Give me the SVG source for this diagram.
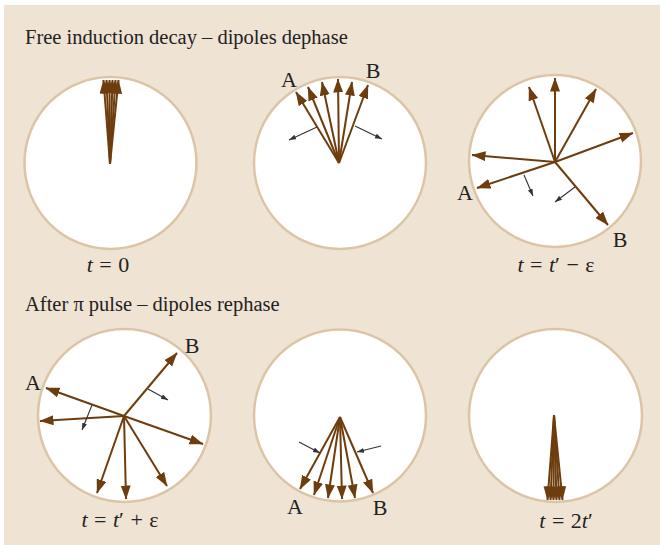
<svg xmlns="http://www.w3.org/2000/svg" width="660" height="545" viewBox="0 0 660 545">
<defs>
<marker id="ah" markerUnits="userSpaceOnUse" markerWidth="15" markerHeight="11" refX="13.5" refY="5" orient="auto">
<path d="M0,0 L14,5 L0,10 z" fill="#6E3D0E"/>
</marker>
<marker id="sh" markerUnits="userSpaceOnUse" markerWidth="8" markerHeight="6" refX="7" refY="2.5" orient="auto">
<path d="M0,0 L7,2.5 L0,5 z" fill="#333"/>
</marker>
</defs>
<style>
.bg{fill:#EFE3D4}
.dial{fill:#fff;stroke:#DCC4A6;stroke-width:2.5}
.v{stroke:#6E3D0E;stroke-width:2;fill:none;marker-end:url(#ah)}
.s{stroke:#333;stroke-width:1.1;fill:none;marker-end:url(#sh)}
text{font-family:"Liberation Serif","Times New Roman",serif;fill:#222}
.title{font-size:20.5px}
.lab{font-size:22px}
.tl{font-size:22px;text-anchor:middle;word-spacing:1px}
.i{font-style:italic}
</style>
<rect class="bg" x="4" y="5" width="656" height="540"/>
<text class="title" x="25" y="44">Free induction decay – dipoles dephase</text>
<text class="title" x="25" y="311">After π pulse – dipoles rephase</text>

<g id="dial1">
<circle class="dial" cx="110.5" cy="163" r="86"/>
<line class="v" x1="110" y1="164" x2="103.5" y2="80"/>
<line class="v" x1="110" y1="164" x2="106.5" y2="80"/>
<line class="v" x1="110" y1="164" x2="109.5" y2="80"/>
<line class="v" x1="110" y1="164" x2="112.5" y2="80"/>
<line class="v" x1="110" y1="164" x2="115.5" y2="80"/>
<line class="v" x1="110" y1="164" x2="118.5" y2="80"/>
<text class="tl" x="108" y="272"><tspan class="i">t</tspan> = 0</text>
</g>

<g id="dial2">
<circle class="dial" cx="340" cy="163" r="86"/>
<line class="v" x1="339" y1="163" x2="296" y2="92"/>
<line class="v" x1="339" y1="163" x2="308" y2="87"/>
<line class="v" x1="339" y1="163" x2="322" y2="82"/>
<line class="v" x1="339" y1="163" x2="338" y2="79"/>
<line class="v" x1="339" y1="163" x2="352" y2="82"/>
<line class="v" x1="339" y1="163" x2="368" y2="85"/>
<text class="lab" x="289" y="87" text-anchor="middle">A</text>
<text class="lab" x="373" y="78" text-anchor="middle">B</text>
</g>

<g id="dial3">
<circle class="dial" cx="555" cy="161" r="86"/>
<line class="v" x1="555" y1="162" x2="529" y2="87"/>
<line class="v" x1="555" y1="162" x2="555" y2="78"/>
<line class="v" x1="555" y1="162" x2="596" y2="89"/>
<line class="v" x1="555" y1="162" x2="633" y2="133"/>
<line class="v" x1="555" y1="162" x2="472" y2="155"/>
<line class="v" x1="555" y1="162" x2="477" y2="188"/>
<line class="v" x1="555" y1="162" x2="608" y2="225"/>
<text class="lab" x="465" y="200" text-anchor="middle">A</text>
<text class="lab" x="620" y="247" text-anchor="middle">B</text>
<text class="tl" x="556" y="272"><tspan class="i">t</tspan> = <tspan class="i">t</tspan>′ − ε</text>
</g>

<g id="dial4">
<circle class="dial" cx="124.5" cy="415.5" r="86.5"/>
<line class="v" x1="124" y1="416" x2="46" y2="388"/>
<line class="v" x1="124" y1="416" x2="40" y2="421"/>
<line class="v" x1="124" y1="416" x2="203" y2="444"/>
<line class="v" x1="124" y1="416" x2="177" y2="353"/>
<line class="v" x1="124" y1="416" x2="97" y2="493"/>
<line class="v" x1="124" y1="416" x2="126" y2="499"/>
<line class="v" x1="124" y1="416" x2="167" y2="486"/>
<text class="lab" x="33" y="390" text-anchor="middle">A</text>
<text class="lab" x="192" y="353" text-anchor="middle">B</text>
<text class="tl" x="120" y="527"><tspan class="i">t</tspan> = <tspan class="i">t</tspan>′ + ε</text>
</g>

<g id="dial5">
<circle class="dial" cx="340" cy="415.5" r="86"/>
<line class="v" x1="340" y1="417" x2="300" y2="489"/>
<line class="v" x1="340" y1="417" x2="314" y2="495"/>
<line class="v" x1="340" y1="417" x2="328" y2="498"/>
<line class="v" x1="340" y1="417" x2="342" y2="499"/>
<line class="v" x1="340" y1="417" x2="355" y2="498"/>
<line class="v" x1="340" y1="417" x2="373" y2="493"/>
<text class="lab" x="295" y="514" text-anchor="middle">A</text>
<text class="lab" x="380" y="515" text-anchor="middle">B</text>
</g>

<g id="dial6">
<circle class="dial" cx="555.5" cy="415.5" r="86.5"/>
<line class="v" x1="554" y1="415" x2="547.5" y2="500"/>
<line class="v" x1="554" y1="415" x2="550.5" y2="500"/>
<line class="v" x1="554" y1="415" x2="553.5" y2="500"/>
<line class="v" x1="554" y1="415" x2="556.5" y2="500"/>
<line class="v" x1="554" y1="415" x2="559.5" y2="500"/>
<line class="v" x1="554" y1="415" x2="562.5" y2="500"/>
<text class="tl" x="566" y="528"><tspan class="i">t</tspan> = 2<tspan class="i">t</tspan>′</text>
</g>

<g id="connectors">
<line class="s" x1="317" y1="127" x2="289" y2="140"/>
<line class="s" x1="355" y1="126" x2="382" y2="139"/>
<line class="s" x1="524" y1="175" x2="533" y2="196"/>
<line class="s" x1="575" y1="187" x2="555" y2="202"/>
<line class="s" x1="92" y1="405" x2="82" y2="430"/>
<line class="s" x1="148" y1="389" x2="168" y2="400"/>
<line class="s" x1="299" y1="442" x2="320" y2="453"/>
<line class="s" x1="381" y1="446" x2="357" y2="452"/>
</g>
</svg>
